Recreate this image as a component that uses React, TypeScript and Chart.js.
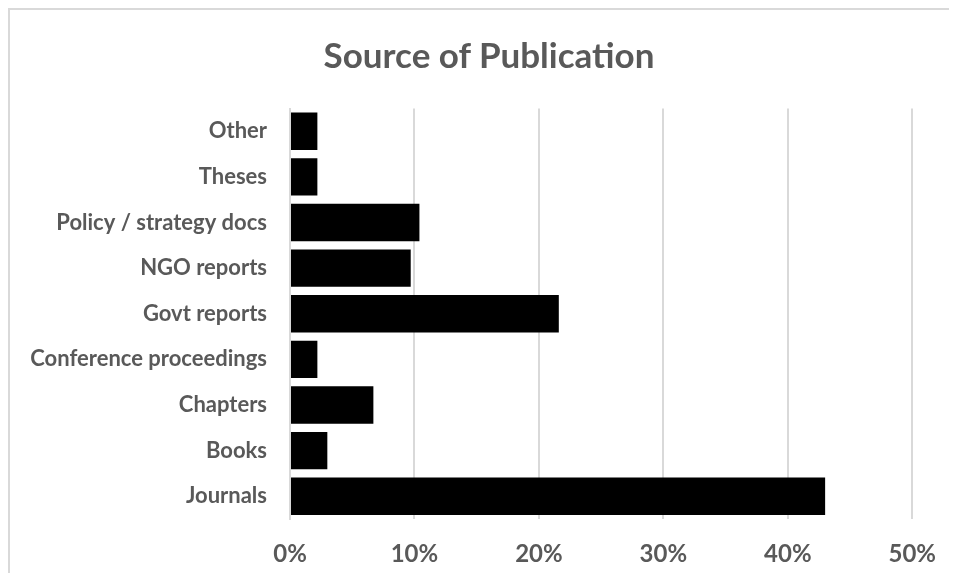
import React, { useEffect, useRef } from "react";
import { Chart, registerables } from "chart.js";

Chart.register(...registerables);

const categories = [
  "Other",
  "Theses",
  "Policy / strategy docs",
  "NGO reports",
  "Govt reports",
  "Conference proceedings",
  "Chapters",
  "Books",
  "Journals",
];
const shares = [2.2, 2.2, 10.4, 9.7, 21.6, 2.2, 6.7, 3.0, 43.0];
const xTicks = [0, 10, 20, 30, 40, 50];
const titleText = "Source of Publication";

const FONT = "Lato, 'Open Sans', sans-serif";
const TEXT = "#595959";
const GRID = "#d9d9d9";

if (typeof document !== "undefined") {
  document.documentElement.style.overflow = "hidden";
  document.body.style.overflow = "hidden";
}

export default function App() {
  const ref = useRef<HTMLCanvasElement | null>(null);

  useEffect(() => {
    if (!ref.current) return;
    const chart = new Chart(ref.current, {
      type: "bar",
      data: {
        labels: categories,
        datasets: [
          {
            data: shares,
            backgroundColor: "#000000",
            borderWidth: 0,
            barPercentage: 0.82,
            categoryPercentage: 1,
          },
        ],
      },
      options: {
        indexAxis: "y",
        animation: false,
        responsive: false,
        maintainAspectRatio: false,
        layout: { padding: { left: 0, right: 39, top: 98.5, bottom: 0 } },
        plugins: {
          legend: { display: false },
          tooltip: { enabled: false },
          title: { display: false },
        },
        scales: {
          x: {
            type: "linear",
            min: 0,
            max: 50,
            afterBuildTicks: (scale: any) => {
              scale.ticks = xTicks.map((v) => ({ value: v }));
            },
            afterFit: (scale: any) => {
              scale.height = 54;
            },
            ticks: {
              color: TEXT,
              font: { family: FONT, size: 24, weight: "bold" },
              padding: 21,
              callback: (v: any) => v + "%",
            },
            grid: { color: GRID, lineWidth: 2, drawTicks: false },
            border: { display: false },
          },
          y: {
            afterFit: (scale: any) => {
              scale.width = 280;
            },
            ticks: {
              color: TEXT,
              font: { family: FONT, size: 22, weight: "bold" },
              padding: 23,
            },
            grid: { display: false, drawTicks: false },
            border: { display: true, color: GRID, width: 2 },
          },
        },
      },
    });
    return () => chart.destroy();
  }, []);

  return (
    <div
      style={{
        position: "relative",
        width: 949,
        height: 565,
        boxSizing: "border-box",
        borderTop: `2px solid ${GRID}`,
        borderLeft: `2px solid ${GRID}`,
        background: "#fff",
        overflow: "hidden",
      }}
    >
      <canvas ref={ref} width={947} height={563} style={{ display: "block" }} />
      <div
        style={{
          position: "absolute",
          left: 479,
          top: 23,
          transform: "translateX(-50%)",
          whiteSpace: "nowrap",
          fontFamily: FONT,
          fontWeight: "bold",
          fontSize: 35,
          lineHeight: "42px",
          color: TEXT,
        }}
      >
        {titleText}
      </div>
    </div>
  );
}
